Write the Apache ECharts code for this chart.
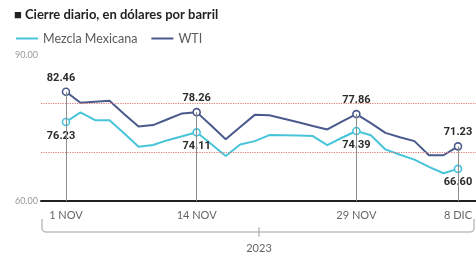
<!DOCTYPE html>
<html>
<head>
<meta charset="utf-8">
<script src="https://cdn.jsdelivr.net/npm/echarts@6/dist/echarts.min.js"></script>
<style>
  html, body { margin: 0; padding: 0; background: #fff; }
  #chart { width: 476px; height: 261px; }
</style>
</head>
<body>
<div id="chart"></div>
<script>
// dias de operacion, 1 nov - 8 dic 2023 (indice 0..27)
var dateIdx = [0, 9, 20, 27];
var dateLabels = ['1 NOV', '14 NOV', '29 NOV', '8 DIC'];
var yLabels = [60, 90];
var refLines = [70, 80];

var wti = [82.46, 80.2, 80.4, 80.6, 77.9, 75.3, 75.6, 76.8, 78.0, 78.26,
           75.5, 72.7, 75.2, 77.7, 77.6, 76.9, 76.2, 75.4, 74.7, 76.3,
           77.86, 76.0, 74.0, 73.1, 72.3, 69.4, 69.4, 71.23];
var mezcla = [76.23, 78.2, 76.6, 76.6, 73.9, 71.15, 71.5, 72.5, 73.3, 74.11,
              71.7, 69.24, 71.6, 72.3, 73.55, 73.5, 73.45, 73.35, 71.5, 73.0,
              74.39, 73.5, 70.6, 69.5, 68.5, 67.0, 65.7, 66.60];

var cMezcla = '#48c4da';
var cWti = '#4b5a8c';
var numFont = { fontFamily: 'Roboto', fontWeight: 'bold', fontSize: 11, color: '#2b2b2b' };

function buildData(arr, pos, color) {
    return arr.map(function (v, i) {
        if (dateIdx.indexOf(i) < 0) return { value: [i, v] };
        return {
            value: [i, v],
            symbol: 'circle',
            symbolSize: 7,
            itemStyle: { color: '#fff', borderColor: color, borderWidth: 1.6 },
            label: Object.assign({
                show: true,
                position: pos,
                distance: 4,
                offset: i === 0 ? [-5, 0] : [0, 0],
                formatter: function (p) { return p.value[1].toFixed(2); }
            }, numFont)
        };
    });
}

var myChart = echarts.init(document.getElementById('chart'));
myChart.setOption({
    animation: false,
    title: {
        text: '\u25A0 Cierre diario, en dólares por barril',
        left: 14,
        top: 8,
        padding: 0,
        textStyle: { fontFamily: 'Lato', fontWeight: 'bold', fontSize: 13, color: '#222' }
    },
    legend: {
        data: ['Mezcla Mexicana', 'WTI'],
        left: 10,
        top: 27,
        itemWidth: 22,
        itemHeight: 2,
        itemGap: 13,
        itemStyle: { opacity: 0 },
        textStyle: { fontFamily: 'Lato', fontSize: 12.5, color: '#5a5a5a' }
    },
    grid: { left: 41, right: 0, top: 55, bottom: 60 },
    xAxis: {
        type: 'value',
        min: -1.72,
        max: 28.24,
        axisLine: { show: true, lineStyle: { color: '#222', width: 2 } },
        axisTick: { show: false },
        splitLine: { show: false },
        axisLabel: {
            customValues: dateIdx,
            margin: 9,
            fontFamily: 'Lato',
            fontSize: 11,
            color: '#666',
            formatter: function (v) { return dateLabels[dateIdx.indexOf(v)]; }
        }
    },
    yAxis: {
        type: 'value',
        min: 60,
        max: 90,
        axisLine: { show: false },
        axisTick: { show: false },
        splitLine: { show: false },
        axisLabel: {
            customValues: yLabels,
            margin: 3,
            fontFamily: 'Lato',
            fontSize: 9,
            color: '#999',
            formatter: function (v) { return v.toFixed(2); }
        }
    },
    graphic: [
        {
            type: 'polyline',
            shape: { points: [[42, 219], [42, 229], [43, 231], [45, 232], [471, 232], [473, 231], [474, 229], [474, 219]] },
            style: { fill: 'none', stroke: '#a0a0a0', lineWidth: 1 }
        },
        {
            type: 'line',
            shape: { x1: 259, y1: 227, x2: 259, y2: 237 },
            style: { stroke: '#a0a0a0', lineWidth: 1 }
        },
        {
            type: 'text',
            x: 259,
            y: 248,
            style: { text: '2023', textAlign: 'center', textVerticalAlign: 'middle',
                     font: '11px Lato', fill: '#666' }
        }
    ],
    series: [
        {
            name: 'Mezcla Mexicana',
            type: 'line',
            color: cMezcla,
            symbol: 'none',
            showAllSymbol: true,
            lineStyle: { width: 2, color: cMezcla },
            data: buildData(mezcla, 'bottom', cMezcla),
            z: 4,
            markLine: {
                silent: true,
                symbol: 'none',
                label: { show: false },
                lineStyle: { color: '#dd7a7a', type: 'dotted', width: 1.2 },
                data: refLines.map(function (v) { return { yAxis: v }; })
            }
        },
        {
            name: 'WTI',
            type: 'line',
            color: cWti,
            symbol: 'none',
            showAllSymbol: true,
            lineStyle: { width: 2, color: cWti },
            data: buildData(wti, 'top', cWti),
            z: 3,
            markLine: {
                silent: true,
                symbol: 'none',
                label: { show: false },
                lineStyle: { color: '#8c8c8c', type: 'solid', width: 1 },
                data: dateIdx.map(function (i) {
                    return [{ coord: [i, wti[i]] }, { coord: [i, 60] }];
                })
            }
        }
    ]
});
</script>
</body>
</html>
